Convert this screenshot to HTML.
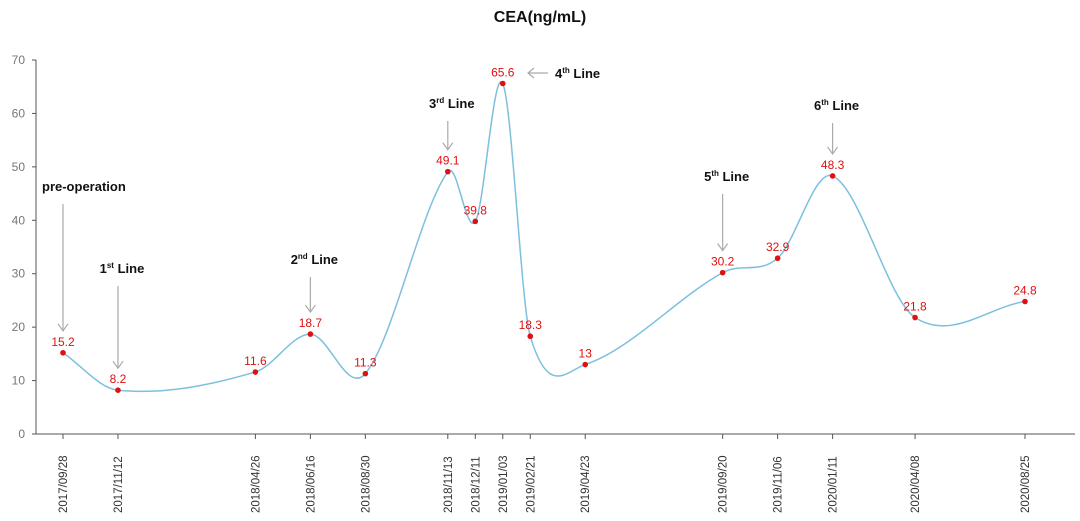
<!DOCTYPE html>
<html><head><meta charset="utf-8"><style>
body{margin:0;background:#fff;}
svg{display:block;font-family:"Liberation Sans",sans-serif;}
</style></head><body>
<svg id="chart" width="1080" height="521">
<text x="540" y="22" text-anchor="middle" font-size="16" font-weight="bold" fill="#111">CEA(ng/mL)</text>
<g id="axes"></g><g id="annots"></g><g id="series"></g>
</svg>
<script>
const dates=["2017/09/28","2017/11/12","2018/04/26","2018/06/16","2018/08/30","2018/11/13","2018/12/11","2019/01/03","2019/02/21","2019/04/23","2019/09/20","2019/11/06","2020/01/11","2020/04/08","2020/08/25"];
const values=[15.2,8.2,11.6,18.7,11.3,49.1,39.8,65.6,18.3,13,30.2,32.9,48.3,21.8,24.8];
const yTicks=[0,10,20,30,40,50,60,70];
const annotations=[
 {i:0,label:"pre-operation",sup:"",dir:"down"},
 {i:1,label:"1",sup:"st",dir:"down"},
 {i:3,label:"2",sup:"nd",dir:"down"},
 {i:5,label:"3",sup:"rd",dir:"down"},
 {i:7,label:"4",sup:"th",dir:"left"},
 {i:10,label:"5",sup:"th",dir:"down"},
 {i:12,label:"6",sup:"th",dir:"down"}];
const annotTextY=[191,273,264,108,78,181,110];
const NS="http://www.w3.org/2000/svg";
function monthNum(s){const p=s.split('/');return (+p[0])*12+(+p[1]-1);}
const m0=monthNum(dates[0]),m1=monthNum(dates[dates.length-1]);
function xS(s){return 63+(monthNum(s)-m0)/(m1-m0)*(1025-63);}
function yS(v){return 434-v*(374/70);}
function el(t,a,p){const e=document.createElementNS(NS,t);for(const k in a)e.setAttribute(k,a[k]);p.appendChild(e);return e;}
const ax=document.getElementById('axes');
const yl=el('line',{x1:36,y1:60,x2:36,y2:434,stroke:'#555','stroke-width':1},ax);


const xl=el('line',{x1:36,y1:434,x2:1075,y2:434,stroke:'#555','stroke-width':1},ax);


yTicks.forEach(v=>{
 el('line',{x1:32,x2:36,y1:yS(v),y2:yS(v),stroke:'#555'},ax);
 const t=el('text',{x:25,y:yS(v)+4,'text-anchor':'end','font-size':12,fill:'#777'},ax);
 t.textContent=v;
 
 
});
dates.forEach(d=>{
 const x=xS(d);
 el('line',{x1:x,x2:x,y1:434,y2:439,stroke:'#555'},ax);
 const t=el('text',{x:0,y:0,transform:`translate(${x+4},${513}) rotate(-90)`,'font-size':11.5,fill:'#333'},ax);
 t.textContent=d;
 
 
});
const pts=values.map((v,i)=>[xS(dates[i]),yS(v)]);
const n=pts.length;
const slopes=pts.map((p,i)=>{
 const a=pts[Math.max(0,i-1)],b=pts[Math.min(n-1,i+1)];
 return (b[1]-a[1])/(b[0]-a[0]);
});
let dstr=`M${pts[0][0]},${pts[0][1]}`;
for(let i=0;i<n-1;i++){
 const p1=pts[i],p2=pts[i+1],h=(p2[0]-p1[0])/3;
 dstr+=` C${p1[0]+h},${p1[1]+slopes[i]*h} ${p2[0]-h},${p2[1]-slopes[i+1]*h} ${p2[0]},${p2[1]}`;
}
const sg=document.getElementById('series');
const line=el('path',{d:dstr,fill:'none',stroke:'#7cc0de','stroke-width':1.5},sg);


pts.forEach((p,i)=>{
 const c=el('circle',{cx:p[0],cy:p[1],r:2.8,fill:'#e01010'},sg);
 
 
 const t=el('text',{x:p[0],y:p[1]-7,'text-anchor':'middle','font-size':12,fill:'#e01010'},sg);
 t.textContent=values[i];
 
 
});
const ag=document.getElementById('annots');
annotations.forEach((a,j)=>{
 const x=xS(dates[a.i]),py=yS(values[a.i]);
 const ty=annotTextY[j];
 let tx,anchor;
 if(a.dir==='left'){tx=555;anchor='start';
  el('line',{x1:548,y1:ty-5,x2:528,y2:ty-5,stroke:'#aaa','stroke-width':1.2},ag);
  el('polyline',{points:`534,${ty-10} 528,${ty-5} 534,${ty}`,fill:'none',stroke:'#aaa','stroke-width':1.2},ag);
 } else {
  tx=j===0?42:x+4;anchor=j===0?'start':'middle';
  const y1=ty+13,y2=py-22;
  el('line',{x1:x,y1:y1,x2:x,y2:y2,stroke:'#aaa','stroke-width':1.2},ag);
  el('polyline',{points:`${x-5},${y2-7} ${x},${y2} ${x+5},${y2-7}`,fill:'none',stroke:'#aaa','stroke-width':1.2},ag);
 }
 const t=el('text',{x:tx,y:ty,'text-anchor':anchor,'font-size':13,'font-weight':'bold',fill:'#111'},ag);
 
 
 if(a.sup){
  const s1=el('tspan',{},t);s1.textContent=a.label;
  const s2=el('tspan',{'font-size':8,dy:-5},t);s2.textContent=a.sup;
  const s3=el('tspan',{dy:5},t);s3.textContent=" Line";
 } else t.textContent=a.label;
});
</script>
</body></html>
